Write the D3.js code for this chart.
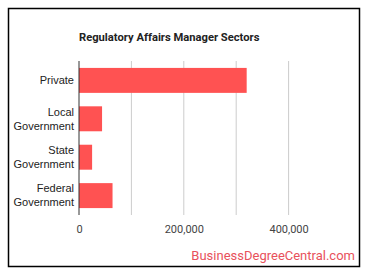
<!DOCTYPE html>
<html>
<head>
<meta charset="utf-8">
<script src="https://cdn.jsdelivr.net/npm/d3@7"></script>
<style>
  body { margin: 0; background: #fff; }
  svg { display: block; font-family: Roboto, sans-serif; }
</style>
</head>
<body>
<svg id="chart"></svg>
<script>
const sectors = ['Private', 'Local Government', 'State Government', 'Federal Government'];
const employed = [320000, 44000, 25000, 64000];
const xTicks = [0, 200000, 400000];
const gridTicks = [100000, 200000, 300000, 400000];

const WIDTH = 370, HEIGHT = 278;
const margin = {top: 61, right: 29, bottom: 63, left: 79};
const width = WIDTH - margin.left - margin.right,
      height = HEIGHT - margin.top - margin.bottom;

const svg = d3.select('#chart')
    .attr('width', WIDTH)
    .attr('height', HEIGHT);

// outer frame
svg.append('rect')
    .attr('x', 8.5).attr('y', 8.5)
    .attr('width', 351).attr('height', 258)
    .attr('fill', '#fff')
    .attr('stroke', '#000')
    .attr('stroke-width', 1.5);

svg.append('text')
    .attr('x', 79).attr('y', 41)
    .attr('font-size', 11.2)
    .attr('font-weight', 'bold')
    .attr('fill', '#222')
    .text('Regulatory Affairs Manager Sectors');

const g = svg.append('g')
    .attr('transform', `translate(${margin.left},${margin.top})`);

const x = d3.scaleLinear()
    .domain([0, 500000])
    .range([0, width]);

const y = d3.scaleBand()
    .domain(sectors)
    .range([0, height])
    .paddingInner(0.35)
    .paddingOuter(0.18);

// gridlines
g.selectAll('.grid')
    .data(gridTicks)
    .join('line')
    .attr('x1', d => x(d)).attr('x2', d => x(d))
    .attr('y1', 0).attr('y2', height)
    .attr('stroke', '#ccc');

// bars
g.selectAll('.bar')
    .data(sectors)
    .join('rect')
    .attr('x', x(0))
    .attr('y', d => y(d))
    .attr('width', (d, i) => x(employed[i]) - x(0))
    .attr('height', y.bandwidth())
    .attr('fill', '#ff5252');

// baseline
g.append('line')
    .attr('x1', x(0)).attr('x2', x(0))
    .attr('y1', 0).attr('y2', height)
    .attr('stroke', '#333');

// x axis labels
const xAxis = g.append('g')
    .attr('transform', `translate(0,${height})`)
    .call(d3.axisBottom(x).tickValues(xTicks).tickSize(0).tickPadding(10).tickFormat(d3.format(',')));
xAxis.select('.domain').remove();
xAxis.selectAll('text')
    .attr('font-size', 11)
    .attr('font-family', 'Roboto, sans-serif')
    .attr('fill', '#444');

// y axis labels (wrapped)
const yAxis = g.append('g')
    .call(d3.axisLeft(y).tickSize(0).tickPadding(6).tickFormat(''));
yAxis.select('.domain').remove();
yAxis.selectAll('.tick').each(function(d) {
  const words = d.split(' ');
  const t = d3.select(this).append('text')
      .attr('x', -5)
      .attr('text-anchor', 'end')
      .attr('font-size', 11)
      .attr('fill', '#222');
  const lh = 14;
  const y0 = -(words.length - 1) * lh / 2;
  words.forEach((w, i) => {
    t.append('tspan')
        .attr('x', -5)
        .attr('y', y0 + i * lh)
        .attr('dy', '0.35em')
        .text(w);
  });
});

svg.append('text')
    .attr('x', 355).attr('y', 260)
    .attr('text-anchor', 'end')
    .attr('font-size', 13)
    .attr('fill', '#e8515b')
    .text('BusinessDegreeCentral.com');
</script>
</body>
</html>
